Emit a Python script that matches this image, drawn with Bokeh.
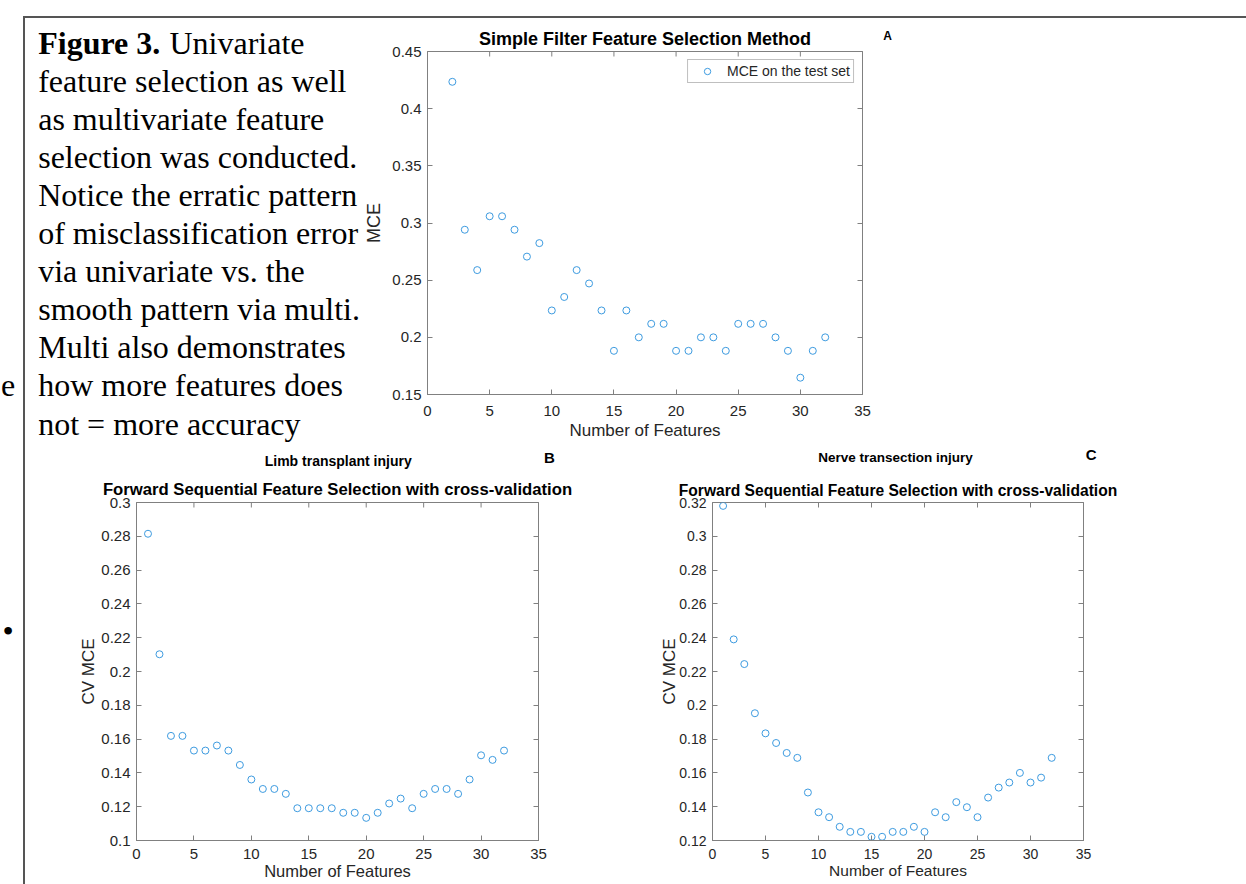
from bokeh.plotting import figure
from bokeh.layouts import row, column
from bokeh.models import (FixedTicker, LinearAxis, Range1d, Legend, LegendItem,
                          CustomJSTickFormatter)
from bokeh.embed import file_html
from bokeh.resources import INLINE
from bokeh.core.properties import value

# ---------------- data ----------------
A_X = list(range(2, 33))
A_MCE = [0.4235, 0.2941, 0.2588, 0.3059, 0.3059, 0.2941, 0.2706, 0.2824, 0.2235, 0.2353,
         0.2588, 0.2471, 0.2235, 0.1882, 0.2235, 0.2000, 0.2118, 0.2118, 0.1882, 0.1882,
         0.2000, 0.2000, 0.1882, 0.2118, 0.2118, 0.2118, 0.2000, 0.1882, 0.1647, 0.1882,
         0.2000]
B_X = list(range(1, 33))
B_CV = [0.2815, 0.2102, 0.1619, 0.1619, 0.1532, 0.1532, 0.1562, 0.1532, 0.1447, 0.1361,
        0.1305, 0.1305, 0.1276, 0.1191, 0.1191, 0.1191, 0.1191, 0.1164, 0.1164, 0.1134,
        0.1164, 0.1219, 0.1248, 0.1191, 0.1276, 0.1305, 0.1305, 0.1276, 0.1361, 0.1504,
        0.1477, 0.1532]
C_X = list(range(1, 33))
C_CV = [0.3180, 0.2390, 0.2244, 0.1953, 0.1834, 0.1777, 0.1718, 0.1689, 0.1484, 0.1367,
        0.1338, 0.1281, 0.1251, 0.1251, 0.1222, 0.1222, 0.1251, 0.1251, 0.1281, 0.1251,
        0.1367, 0.1338, 0.1427, 0.1397, 0.1338, 0.1454, 0.1513, 0.1543, 0.1600, 0.1543,
        0.1572, 0.1689]

X_TICKS = [0, 5, 10, 15, 20, 25, 30, 35]
A_Y_TICKS = [0.15, 0.2, 0.25, 0.3, 0.35, 0.4, 0.45]
B_Y_TICKS = [0.1, 0.12, 0.14, 0.16, 0.18, 0.2, 0.22, 0.24, 0.26, 0.28, 0.3]
C_Y_TICKS = [0.12, 0.14, 0.16, 0.18, 0.2, 0.22, 0.24, 0.26, 0.28, 0.3, 0.32]

TITLE_A = "Simple Filter Feature Selection Method"
TITLE_FS = "Forward Sequential Feature Selection with cross-validation"
SUB_B = "Limb transplant injury"
SUB_C = "Nerve transection injury"
X_LABEL = "Number of Features"

CAPTION_BOLD = "Figure 3."
CAPTION_LINES = ["Univariate",
                 "feature selection as well",
                 "as multivariate feature",
                 "selection was conducted.",
                 "Notice the erratic pattern",
                 "of misclassification error",
                 "via univariate vs. the",
                 "smooth pattern via multi.",
                 "Multi also demonstrates",
                 "how more features does",
                 "not = more accuracy"]

# ---------------- styles ----------------
AX = "#808080"
TXT = "#262626"
FONT = "Liberation Sans"
SERIF = "Liberation Serif"
MARK = "#3d9be0"
FMT = "return String(parseFloat(tick.toFixed(4)));"


def text_fig(x0, x1, y0, y1):
    """Blank figure whose data units are page pixels (y downwards)."""
    p = figure(width=x1 - x0, height=y1 - y0, x_range=Range1d(x0, x1),
               y_range=Range1d(y1, y0), toolbar_location=None, output_backend="svg",
               x_axis_type=None, y_axis_type=None, min_border=0, frame_align=False)
    p.grid.visible = False
    p.outline_line_color = None
    return p


def put(p, x, y, t, fs, bold=True, font=FONT, align="center", baseline="middle"):
    p.text(x=[x], y=[y], text=[t], text_font=value(font), text_font_size=fs,
           text_font_style="bold" if bold else "normal", text_color="black",
           text_align=align, text_baseline=baseline)


def plot_fig(w, h, mb, y0, y1, y_ticks, tick_fs, ylab, ylab_fs, xlab_fs,
             ytick_sd, ylab_sd, xtick_sd, xlab_sd, title, title_fs, title_sd, title_off):
    p = figure(width=w, height=h, x_range=Range1d(0, 35), y_range=Range1d(y0, y1),
               toolbar_location=None, output_backend="svg", frame_align=False,
               min_border_left=mb[0], min_border_right=mb[1],
               min_border_top=mb[2], min_border_bottom=mb[3])
    p.grid.visible = False
    p.outline_line_color = AX
    p.outline_line_width = 1
    p.title.text = title
    p.title.text_font = FONT
    p.title.text_font_size = title_fs
    p.title.text_font_style = "bold"
    p.title.text_color = "black"
    p.title.align = "center"
    p.title.standoff = title_sd
    p.title.offset = title_off
    xa, ya = p.below[0], p.left[0]
    xa.ticker = FixedTicker(ticks=X_TICKS)
    ya.ticker = FixedTicker(ticks=y_ticks)
    for ax in (xa, ya):
        ax.axis_line_color = AX
        ax.major_tick_line_color = AX
        ax.major_tick_in = 5
        ax.major_tick_out = 0
        ax.minor_tick_in = 0
        ax.minor_tick_out = 0
        ax.minor_tick_line_color = None
        ax.major_label_text_font = FONT
        ax.major_label_text_font_size = tick_fs
        ax.major_label_text_color = TXT
        ax.axis_label_text_font = FONT
        ax.axis_label_text_font_style = "normal"
        ax.axis_label_text_color = TXT
        ax.formatter = CustomJSTickFormatter(code=FMT)
    xa.axis_label = X_LABEL
    ya.axis_label = ylab
    xa.axis_label_text_font_size = xlab_fs
    ya.axis_label_text_font_size = ylab_fs
    ya.major_label_standoff = ytick_sd
    ya.axis_label_standoff = ylab_sd
    xa.major_label_standoff = xtick_sd
    xa.axis_label_standoff = xlab_sd
    # mirrored ticks on the right: an axis without labels
    right = LinearAxis(ticker=FixedTicker(ticks=y_ticks))
    right.axis_line_color = AX
    right.major_tick_line_color = AX
    right.major_tick_in = 5
    right.major_tick_out = 0
    right.minor_tick_in = 0
    right.minor_tick_out = 0
    right.minor_tick_line_color = None
    right.major_label_text_font_size = "0px"
    right.major_label_text_color = None
    right.major_label_standoff = 0
    p.add_layout(right, "right")
    # mirrored ticks on the top edge (5 px long, inward)
    frame_h = h - mb[2] - mb[3]
    dy = 5.0 * (y1 - y0) / frame_h
    n = len(X_TICKS)
    p.segment(x0=X_TICKS, y0=[y1] * n, x1=X_TICKS, y1=[y1 - dy] * n,
              line_color=AX, line_width=1)
    return p


# ---------------- left strip (cut-off slide text) ----------------
strip = text_fig(0, 23, 0, 884)
put(strip, 0.5, 385, "e", "32px", bold=False, font=SERIF, align="left",
    baseline="alphabetic")
put(strip, 7.5, 630, "\u2022", "32px", bold=False, font=SERIF)

# ---------------- caption ----------------
cap = text_fig(25, 360, 18, 444)
base_y = [42.0 + 38.1 * k for k in range(len(CAPTION_LINES))]
cap.text(x=[37.7], y=[base_y[0]], text=[CAPTION_BOLD], text_font=value(SERIF),
         text_font_size="32px", text_font_style="bold", text_baseline="alphabetic",
         text_color="black")
cap.text(x=[169] + [37.7] * (len(CAPTION_LINES) - 1), y=base_y, text=CAPTION_LINES,
         text_font=value(SERIF), text_font_size="32px",
         text_baseline="alphabetic", text_color="black")

# ---------------- panel A ----------------
pa = plot_fig(518, 426, (67, 16, 33, 50), 0.15, 0.45, A_Y_TICKS, "15px", "MCE", "18px",
              "17px", 6, 5, 11, 2, TITLE_A, "18px", 5, 3)
ra = pa.scatter(A_X, A_MCE, marker="circle", size=7, fill_color=None, line_color=MARK,
                line_width=1)
leg = Legend(items=[LegendItem(label="MCE on the test set", renderers=[ra])],
             location="top_right", label_text_font=FONT, label_text_font_size="14px",
             label_text_color=TXT, border_line_color=AX, border_line_width=1,
             padding=3, spacing=0, margin=8, glyph_width=32, glyph_height=16,
             label_height=16, label_standoff=4, background_fill_alpha=1)
pa.add_layout(leg)
sideA = text_fig(878, 1246, 18, 444)
put(sideA, 887, 35, "A", "12px")

# ---------------- panel B ----------------
headB = text_fig(25, 620, 444, 474)
put(headB, 337.7, 460, SUB_B, "14px")
put(headB, 549, 457, "B", "15px")
pb = plot_fig(595, 410, (111, 82, 28, 44), 0.1, 0.3, B_Y_TICKS, "15px", "CV MCE", "17px",
              "16.5px", 6, 0, 8, 0, TITLE_FS, "16.7px", 7, 5)
pb.scatter(B_X, B_CV, marker="circle", size=7, fill_color=None, line_color=MARK, line_width=1)

# ---------------- panel C ----------------
headC = text_fig(620, 1246, 444, 474)
put(headC, 895, 456.7, SUB_C, "13.5px")
put(headC, 1090.7, 454, "C", "15px")
pc = plot_fig(626, 410, (92, 163, 28, 44), 0.12, 0.32, C_Y_TICKS, "14px", "CV MCE", "17px",
              "15.5px", 6, -3, 8, 0, TITLE_FS, "15.6px", 7, 4)
pc.scatter(C_X, C_CV, marker="circle", size=7, fill_color=None, line_color=MARK, line_width=1)

body = column(row(cap, pa, sideA),
              row(column(headB, pb), column(headC, pc)),
              styles={"border-top": "2px solid #555555", "border-left": "2px solid #555555"},
              margin=(16, 0, 0, 0))
layout = row(strip, body)

open("out.html", "w").write(file_html(layout, INLINE))
